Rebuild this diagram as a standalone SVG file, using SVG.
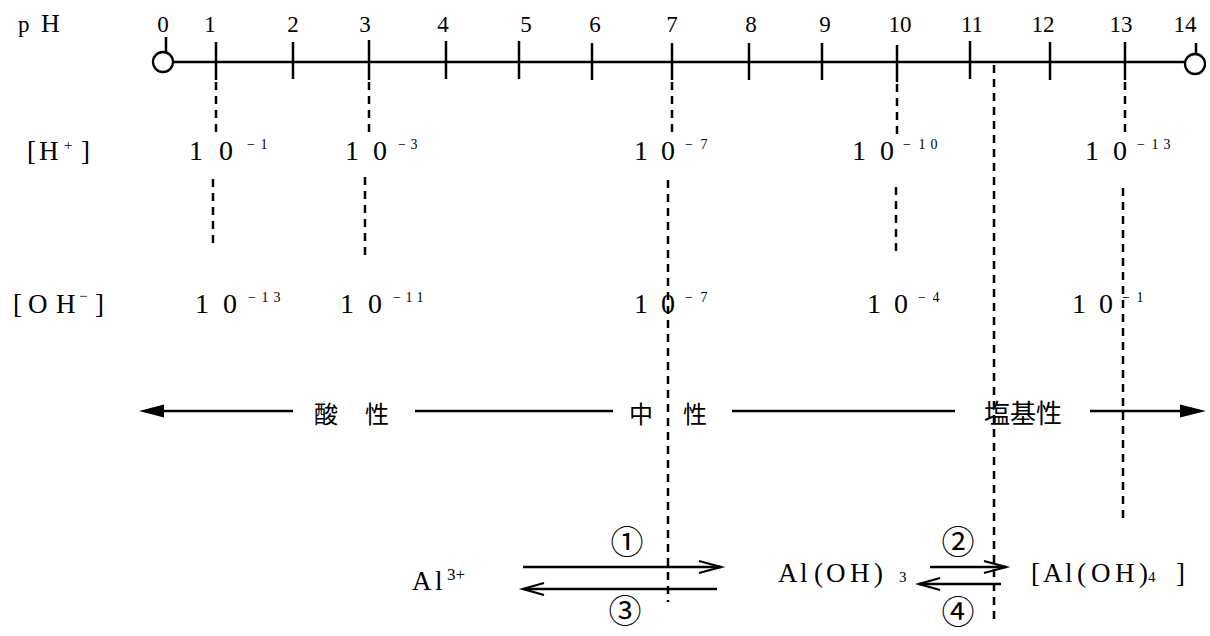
<svg xmlns="http://www.w3.org/2000/svg" width="1210" height="636" viewBox="0 0 1210 636">
<style>
.ax{stroke:#000;stroke-width:2.3;fill:none}
.tk{stroke:#000;stroke-width:2.5}
.ds{stroke:#000;stroke-width:2.5;stroke-dasharray:8 6;fill:none}
.ln{stroke:#000;stroke-width:2.3;fill:none}
.n{font-family:"Liberation Serif",serif;font-size:23px;text-anchor:middle;fill:#000}
.d{font-family:"Liberation Serif",serif;font-size:28px;text-anchor:middle;fill:#000}
.s{font-size:14px}
.lb{font-family:"Liberation Serif",serif;font-size:27px;fill:#000}
.ss{font-size:15px}
.jp{font-family:"Noto Sans CJK JP","Noto Sans CJK SC",sans-serif;font-size:24px;text-anchor:middle;fill:#000}
.c{font-family:"Noto Sans CJK JP",sans-serif;font-size:33px;text-anchor:middle;fill:#000}
</style>
<rect width="1210" height="636" fill="#fff"/>

<g id="axis">
<line class="ax" x1="173" y1="62" x2="1185" y2="62"/>
<circle class="ax" cx="163" cy="62" r="10" fill="#fff"/>
<circle class="ax" cx="1195" cy="64" r="10" fill="#fff"/>
<line class="tk" x1="166" y1="37" x2="166" y2="52"/>
<line class="tk" x1="1196" y1="43" x2="1196" y2="54"/>
<line class="tk" x1="216" y1="42" x2="216" y2="80"/>
<line class="tk" x1="293" y1="42" x2="293" y2="79"/>
<line class="tk" x1="369" y1="40" x2="369" y2="80"/>
<line class="tk" x1="446" y1="41" x2="446" y2="79"/>
<line class="tk" x1="519" y1="41" x2="519" y2="79"/>
<line class="tk" x1="592" y1="43" x2="592" y2="80"/>
<line class="tk" x1="672" y1="43" x2="672" y2="80"/>
<line class="tk" x1="749" y1="43" x2="749" y2="80"/>
<line class="tk" x1="822" y1="43" x2="822" y2="80"/>
<line class="tk" x1="897" y1="45" x2="897" y2="82"/>
<line class="tk" x1="970" y1="41" x2="970" y2="79"/>
<line class="tk" x1="1050" y1="42" x2="1050" y2="80"/>
<line class="tk" x1="1125" y1="42" x2="1125" y2="80"/>
</g>

<g id="axis-labels">
<text class="n" y="32"><tspan x="18" text-anchor="start">p</tspan><tspan x="41" text-anchor="start" style="font-size:26px">H</tspan></text>
<text class="n" x="163" y="32">0</text>
<text class="n" x="210" y="32">1</text>
<text class="n" x="293" y="32">2</text>
<text class="n" x="365" y="32">3</text>
<text class="n" x="443" y="32">4</text>
<text class="n" x="526" y="32">5</text>
<text class="n" x="595" y="32">6</text>
<text class="n" x="672" y="32">7</text>
<text class="n" x="751" y="32">8</text>
<text class="n" x="825" y="32">9</text>
<text class="n" x="900" y="32">10</text>
<text class="n" x="972" y="32">11</text>
<text class="n" x="1043" y="32">12</text>
<text class="n" x="1121" y="32">13</text>
<text class="n" x="1185" y="32">14</text>
</g>

<g id="guides">
<line class="ds" x1="216" y1="82" x2="216" y2="133"/>
<line class="ds" x1="213" y1="179" x2="213" y2="247"/>
<line class="ds" x1="369" y1="82" x2="369" y2="133"/>
<line class="ds" x1="365" y1="177" x2="365" y2="260"/>
<line class="ds" x1="672" y1="82" x2="672" y2="135"/>
<line class="ds" x1="668" y1="180" x2="668" y2="602"/>
<line class="ds" x1="897" y1="84" x2="897" y2="135"/>
<line class="ds" x1="896" y1="187" x2="896" y2="256"/>
<line class="ds" x1="994" y1="65" x2="994" y2="620"/>
<line class="ds" x1="1125" y1="82" x2="1125" y2="133"/>
<line class="ds" x1="1123" y1="188" x2="1123" y2="520"/>
</g>

<g id="row-H">
<text class="lb" y="160"><tspan x="27">[</tspan><tspan x="39">H</tspan><tspan class="ss" x="64" dy="-10">+</tspan><tspan x="81" dy="10">]</tspan></text>
<text class="d" y="160"><tspan x="196">1</tspan><tspan x="226">0</tspan><tspan class="s" x="251" dy="-11">−</tspan><tspan class="s" x="264">1</tspan></text>
<text class="d" y="160"><tspan x="352">1</tspan><tspan x="380">0</tspan><tspan class="s" x="402" dy="-11">−</tspan><tspan class="s" x="414">3</tspan></text>
<text class="d" y="160"><tspan x="641">1</tspan><tspan x="668">0</tspan><tspan class="s" x="689" dy="-11">−</tspan><tspan class="s" x="704">7</tspan></text>
<text class="d" y="160"><tspan x="859">1</tspan><tspan x="887">0</tspan><tspan class="s" x="907" dy="-11">−</tspan><tspan class="s" x="922">1</tspan><tspan class="s" x="934">0</tspan></text>
<text class="d" y="160"><tspan x="1092">1</tspan><tspan x="1120">0</tspan><tspan class="s" x="1141" dy="-11">−</tspan><tspan class="s" x="1155">1</tspan><tspan class="s" x="1167">3</tspan></text>
</g>

<g id="row-OH">
<text class="lb" y="313"><tspan x="13">[</tspan><tspan x="28">O</tspan><tspan x="56">H</tspan><tspan class="ss" x="79" dy="-12">−</tspan><tspan x="95" dy="12">]</tspan></text>
<text class="d" y="313"><tspan x="202">1</tspan><tspan x="230">0</tspan><tspan class="s" x="252" dy="-11">−</tspan><tspan class="s" x="265">1</tspan><tspan class="s" x="277">3</tspan></text>
<text class="d" y="313"><tspan x="347">1</tspan><tspan x="375">0</tspan><tspan class="s" x="397" dy="-11">−</tspan><tspan class="s" x="409">1</tspan><tspan class="s" x="420">1</tspan></text>
<text class="d" y="313"><tspan x="641">1</tspan><tspan x="668">0</tspan><tspan class="s" x="689" dy="-11">−</tspan><tspan class="s" x="704">7</tspan></text>
<text class="d" y="313"><tspan x="874">1</tspan><tspan x="901">0</tspan><tspan class="s" x="922" dy="-11">−</tspan><tspan class="s" x="936">4</tspan></text>
<text class="d" y="313"><tspan x="1079">1</tspan><tspan x="1106">0</tspan><tspan class="s" x="1126" dy="-11">−</tspan><tspan class="s" x="1140">1</tspan></text>
</g>

<g id="scale">
<line class="ln" x1="160" y1="411" x2="293" y2="411"/>
<polygon points="139,411 164,404.5 164,417.5" fill="#000"/>
<text class="jp" x="326" y="423">酸</text>
<text class="jp" x="377" y="423">性</text>
<line class="ln" x1="415" y1="411" x2="613" y2="411"/>
<text class="jp" x="641" y="423">中</text>
<text class="jp" x="695" y="423">性</text>
<line class="ln" x1="732" y1="411" x2="955" y2="411"/>
<text class="jp" x="1023" y="423" style="font-size:26px">塩基性</text>
<line class="ln" x1="1090" y1="411" x2="1182" y2="411"/>
<polygon points="1206,411 1180,404.5 1180,417.5" fill="#000"/>
</g>

<g id="species">
<text class="lb" y="590"><tspan x="412">A</tspan><tspan x="435">l</tspan><tspan style="font-size:17px" x="447" dy="-10">3+</tspan></text>
<text class="lb" y="582"><tspan x="778">A</tspan><tspan x="800">l</tspan><tspan x="814">(</tspan><tspan x="826">O</tspan><tspan x="850">H</tspan><tspan x="874">)</tspan><tspan class="ss" x="899">3</tspan></text>
<text class="lb" y="582"><tspan x="1031">[</tspan><tspan x="1043">A</tspan><tspan x="1065">l</tspan><tspan x="1077">(</tspan><tspan x="1091">O</tspan><tspan x="1115">H</tspan><tspan x="1139">)</tspan><tspan class="ss" x="1148">4</tspan><tspan x="1176">]</tspan></text>
</g>

<g id="connectors">
<line class="ln" x1="523" y1="567" x2="721" y2="567"/>
<polyline class="ln" points="699,561 721,567 699,573"/>
<line class="ln" x1="524" y1="589" x2="717" y2="589"/>
<polyline class="ln" points="544,583 523,589 544,595"/>
<line class="ln" x1="930" y1="567" x2="1006" y2="567"/>
<polyline class="ln" points="984,561 1006,567 984,573"/>
<line class="ln" x1="919" y1="584" x2="1001" y2="584"/>
<polyline class="ln" points="940,578 919,584 940,590"/>
</g>

<g id="labels">
<text class="c" x="627" y="554">①</text>
<text class="c" x="625" y="623">③</text>
<text class="c" x="958" y="554">②</text>
<text class="c" x="958" y="624">④</text>
</g>
</svg>
